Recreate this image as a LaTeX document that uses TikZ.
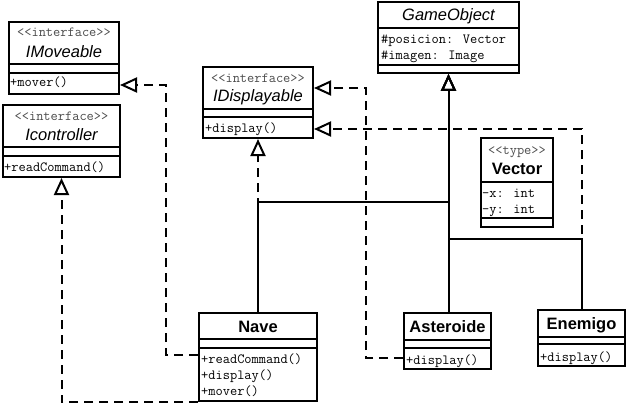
\documentclass[tikz,border=0pt]{standalone}
\usepackage{fontspec}
\usepackage{tikz}
\usetikzlibrary{arrows.meta}
\newfontfamily\namefont{Liberation Sans}
\newcommand{\csep}[2]{\draw[sepline] ([yshift=-#2pt]#1.north west) -- ([yshift=-#2pt]#1.north east);}
\tikzset{
  clsbox/.style={draw=black, fill=white, line width=2pt, anchor=north west, inner sep=0pt},
  sepline/.style={draw=black, line width=2pt},
  stereo/.style={anchor=base, inner sep=0pt, text=black!70, font=\ttfamily\fontsize{14}{16}\selectfont},
  iname/.style={anchor=base, inner sep=0pt, font=\namefont\itshape\fontsize{16.5}{18}\selectfont},
  cname/.style={anchor=base, inner sep=0pt, font=\namefont\bfseries\fontsize{16.5}{18}\selectfont},
  member/.style={anchor=base west, inner sep=0pt, font=\ttfamily\fontsize{14}{16}\selectfont},
  inherit/.style={draw=black, line width=2pt, -{Triangle[open, length=17pt, width=15pt]}},
  realize/.style={inherit, dash pattern=on 9pt off 6pt},
}
\begin{document}
\begin{tikzpicture}[x=1pt, y=-1pt]
\useasboundingbox (0,0) rectangle (626,417);

\node[clsbox, minimum width=110pt, minimum height=72pt] (imov) at (8,21) {};
\node[stereo] (imov-st) at ([yshift=-16pt]imov.north) {<<interface>>};
\node[iname] (imov-nm) at ([yshift=-37pt]imov.north) {IMoveable};
\csep{imov}{43}\csep{imov}{52}
\node[member] (imov-m1) at ([xshift=2pt,yshift=-66pt]imov.north west) {+mover()};

\node[clsbox, minimum width=117pt, minimum height=72pt] (ictl) at (2,104) {};
\node[stereo] (ictl-st) at ([yshift=-17pt]ictl.north) {<<interface>>};
\node[iname] (ictl-nm) at ([yshift=-36pt]ictl.north) {Icontroller};
\csep{ictl}{43}\csep{ictl}{52}
\node[member] (ictl-m1) at ([xshift=2pt,yshift=-67pt]ictl.north west) {+readCommand()};

\node[clsbox, minimum width=110pt, minimum height=71pt] (idisp) at (202,66) {};
\node[stereo] (idisp-st) at ([yshift=-17pt]idisp.north) {<<interface>>};
\node[iname] (idisp-nm) at ([yshift=-36pt]idisp.north) {IDisplayable};
\csep{idisp}{43}\csep{idisp}{51}
\node[member] (idisp-m1) at ([xshift=3pt,yshift=-66pt]idisp.north west) {+display()};

\node[clsbox, minimum width=141pt, minimum height=71pt] (gobj) at (377,1) {};
\node[iname] (gobj-nm) at ([yshift=-20pt]gobj.north) {GameObject};
\csep{gobj}{27}\csep{gobj}{64}
\node[member] (gobj-a1) at ([xshift=4pt,yshift=-43pt]gobj.north west) {\#posicion: Vector};
\node[member] (gobj-a2) at ([xshift=4pt,yshift=-59pt]gobj.north west) {\#imagen: Image};

\node[clsbox, minimum width=72pt, minimum height=89pt] (vec) at (480,137) {};
\node[stereo] (vec-st) at ([yshift=-17pt]vec.north) {<<type>>};
\node[cname] (vec-nm) at ([yshift=-37pt]vec.north) {Vector};
\csep{vec}{45}\csep{vec}{81}
\node[member] (vec-a1) at ([xshift=2pt,yshift=-60pt]vec.north west) {-x: int};
\node[member] (vec-a2) at ([xshift=2pt,yshift=-76pt]vec.north west) {-y: int};

\node[clsbox, minimum width=118pt, minimum height=88pt] (nave) at (198,312) {};
\node[cname] (nave-nm) at ([yshift=-20pt]nave.north) {Nave};
\csep{nave}{27}\csep{nave}{36}
\node[member] (nave-m1) at ([xshift=3pt,yshift=-51pt]nave.north west) {+readCommand()};
\node[member] (nave-m2) at ([xshift=3pt,yshift=-67pt]nave.north west) {+display()};
\node[member] (nave-m3) at ([xshift=3pt,yshift=-83pt]nave.north west) {+mover()};

\node[clsbox, minimum width=87pt, minimum height=56pt] (ast) at (403,312) {};
\node[cname] (ast-nm) at ([yshift=-20pt]ast.north) {Asteroide};
\csep{ast}{28}\csep{ast}{36}
\node[member] (ast-m1) at ([xshift=3pt,yshift=-52pt]ast.north west) {+display()};

\node[clsbox, minimum width=87pt, minimum height=56pt] (ene) at (537,309) {};
\node[cname] (ene-nm) at ([yshift=-20pt]ene.north) {Enemigo};
\csep{ene}{28}\csep{ene}{35}
\node[member] (ene-m1) at ([xshift=3pt,yshift=-52pt]ene.north west) {+display()};

\coordinate (gnave) at ([yshift=-128pt]gobj.south);
\coordinate (gbar) at ([yshift=-165pt]gobj.south);

\draw[realize] ([yshift=-43pt]nave.north west) -- ++(-32,0) |- ([yshift=10pt]imov.south east);
\draw[realize] (nave.south west) -| (ictl.south);
\draw[realize] (nave.north) -- (idisp.south);
\draw[realize] ([yshift=-46pt]ast.north west) -- ++(-37,0) |- ([yshift=-22pt]idisp.north east);
\draw[realize] (ene.north) |- ([yshift=10pt]idisp.south east);

\draw[inherit] (nave.north) |- (gnave) -- (gobj.south);
\draw[inherit] (ast.north -| gobj.south) -- (gobj.south);
\draw[inherit] (ene.north) |- (gbar) -- (gobj.south);
\end{tikzpicture}
\end{document}
